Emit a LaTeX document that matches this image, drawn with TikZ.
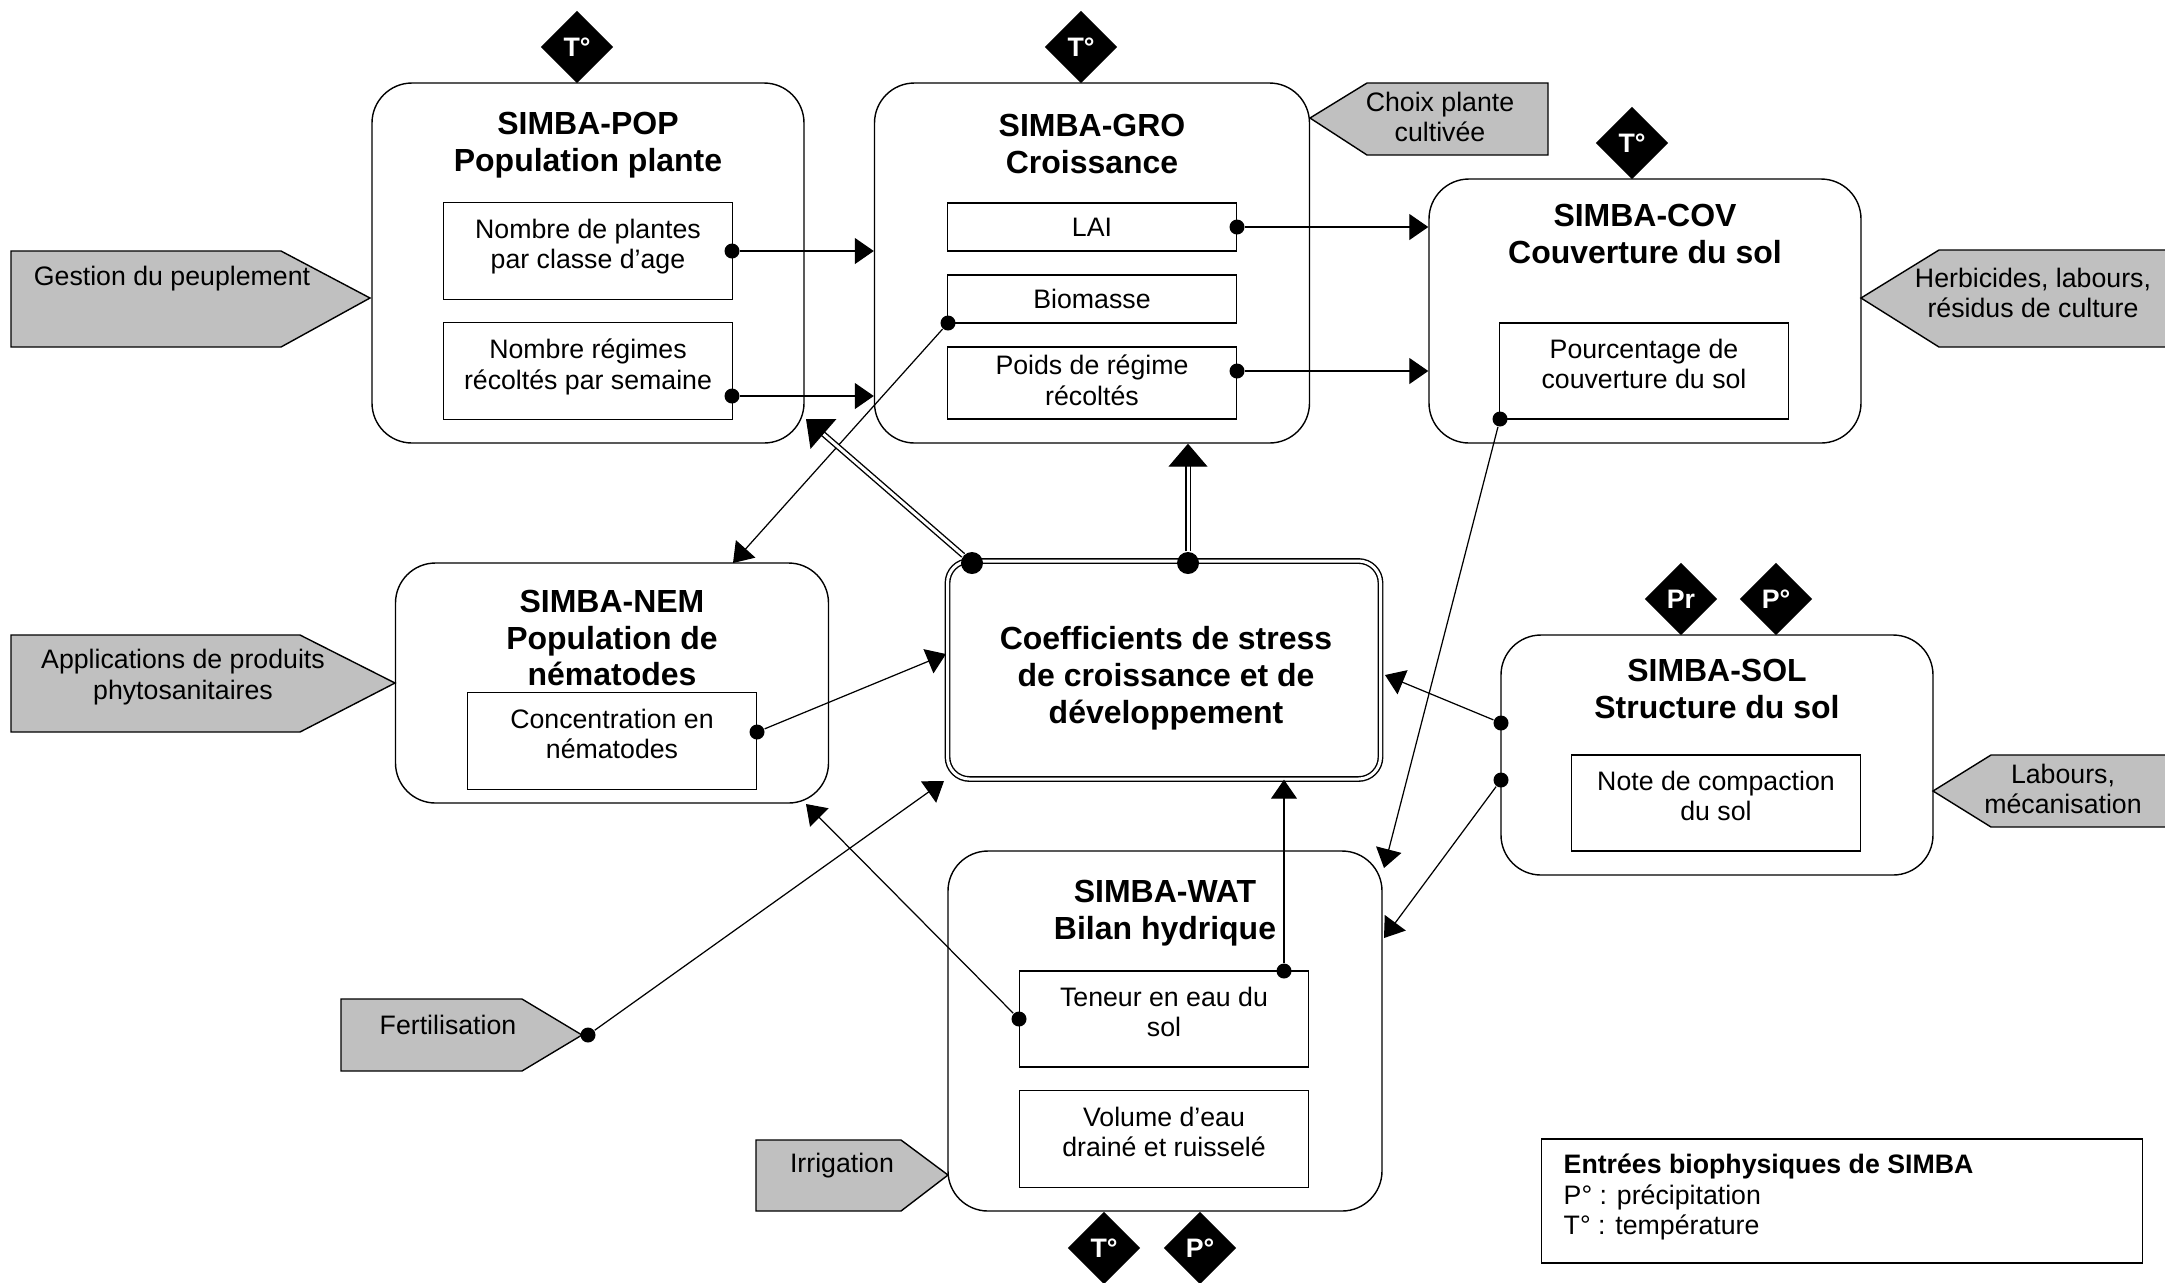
\documentclass[tikz,border=0pt]{standalone}
\usepackage{fontspec}
\setmainfont{Liberation Sans}
\usetikzlibrary{shapes.geometric,arrows.meta}
\definecolor{inputgray}{RGB}{192,192,192}

\tikzset{
  module/.style={draw, rounded corners=4mm, line width=0.4pt},
  title/.style={align=center, inner sep=0pt, font=\fontsize{9.1}{10.5}\selectfont\bfseries},
  var/.style={draw, align=center, inner sep=0pt, minimum width=28.9mm, font=\fontsize{7.6}{8.7}\selectfont},
  vartwo/.style={var, text depth=1.4mm},
  dot/.style={circle, fill, inner sep=0pt, minimum size=1.5mm},
  bigdot/.style={dot, minimum size=2.2mm},
  conn/.style={line width=0.35pt, -{Triangle[length=1.9mm, width=2.6mm]}},
  dblconn/.style={double, double distance=0.3mm, line width=0.4pt, -{Triangle[length=2.3mm, width=3.9mm]}},
  input/.style={draw, fill=inputgray, line width=0.4pt},
  inputtext/.style={align=center, inner sep=0pt, font=\fontsize{7.6}{8.7}\selectfont},
  entry/.style={diamond, aspect=1, fill=black, inner sep=0pt, minimum size=7.3mm, text=white, font=\fontsize{7.6}{8}\selectfont\bfseries}
}

\begin{document}
\begin{tikzpicture}[x=0.1mm, y=-0.1mm]
\useasboundingbox (0,0) rectangle (2165,1282);

\draw[input] (11,251) -- (281,251) -- (370,298) -- (281,347) -- (11,347) -- cycle;
\node[inputtext] (gestion) at (172,279) {Gestion du peuplement};
\draw[input] (11,635) -- (300,635) -- (395,683) -- (300,732) -- (11,732) -- cycle;
\node[inputtext] (applications) at (183,677) {Applications de produits\\phytosanitaires};
\draw[input] (341,999) -- (522,999) -- (582,1035) -- (522,1071) -- (341,1071) -- cycle;
\node[inputtext] (fertilisation) at (448,1025) {Fertilisation};
\draw[input] (756,1140) -- (901,1140) -- (948,1175) -- (901,1211) -- (756,1211) -- cycle;
\node[inputtext] (irrigation) at (842,1166) {Irrigation};
\draw[input] (1310,118) -- (1367,83) -- (1548,83) -- (1548,155) -- (1367,155) -- cycle;
\node[inputtext] (choix) at (1440,117) {Choix plante\\cultivée};
\draw[input] (1861,298) -- (1939,250) -- (2172,250) -- (2172,347) -- (1939,347) -- cycle;
\node[inputtext] (herbicides) at (2033,293) {Herbicides, labours,\\résidus de culture};
\draw[input] (1933,791) -- (1991,755) -- (2172,755) -- (2172,827) -- (1991,827) -- cycle;
\node[inputtext] (labours) at (2063,789) {Labours,\\mécanisation};

\node[module, minimum width=43.2mm, minimum height=36mm] (pop) at (588,263) {};
\node[module, minimum width=43.5mm, minimum height=36mm] (gro) at (1092,263) {};
\node[module, minimum width=43.2mm, minimum height=26.4mm] (cov) at (1645,311) {};
\node[module, minimum width=43.3mm, minimum height=24mm] (nem) at (612,683) {};
\node[module, double, double distance=0.3mm, rounded corners=2.2mm, minimum width=43.3mm, minimum height=21.8mm] (stress) at (1164,670) {};
\node[module, minimum width=43.2mm, minimum height=24mm] (sol) at (1717,755) {};
\node[module, minimum width=43.4mm, minimum height=36mm] (wat) at (1165,1031) {};

\node[title] (poptitle) at (588,145) {SIMBA-POP\\Population plante};
\node[title] (grotitle) at (1092,144) {SIMBA-GRO\\Croissance};
\node[title] (covtitle) at (1645,234) {SIMBA-COV\\Couverture du sol};
\node[title] (nemtitle) at (612,638) {SIMBA-NEM\\Population de\\nématodes};
\node[title] (stresstitle) at (1166,678) {Coefficients de stress\\de croissance et de\\développement};
\node[title] (soltitle) at (1717,689) {SIMBA-SOL\\Structure du sol};
\node[title] (wattitle) at (1165,913) {SIMBA-WAT\\Bilan hydrique};

\node[vartwo, minimum height=9.7mm] (nbplantes) at (588,251) {Nombre de plantes\\par classe d’age};
\node[vartwo, minimum height=9.7mm] (nbregimes) at (588,371) {Nombre régimes\\récoltés par semaine};
\node[var, minimum height=4.8mm] (lai) at (1092,227) {LAI};
\node[var, minimum height=4.8mm] (biomasse) at (1092,299) {Biomasse};
\node[var, text depth=0.6mm, minimum height=7.2mm] (poids) at (1092,383) {Poids de régime\\récoltés};
\node[vartwo, minimum height=9.6mm] (pourcentage) at (1644,371) {Pourcentage de\\couverture du sol};
\node[vartwo, minimum height=9.7mm] (concentration) at (612,741) {Concentration en\\nématodes};
\node[vartwo, minimum height=9.6mm] (compaction) at (1716,803) {Note de compaction\\du sol};
\node[vartwo, minimum height=9.6mm] (teneur) at (1164,1019) {Teneur en eau du\\sol};
\node[vartwo, minimum height=9.7mm] (volume) at (1164,1139) {Volume d’eau\\drainé et ruisselé};

\node[entry] (tpop) at (577,47) {T°};
\node[entry] (tgro) at (1081,47) {T°};
\node[entry] (tcov) at (1632,143) {T°};
\node[entry] (prsol) at (1681,599) {Pr};
\node[entry] (psol) at (1776,599) {P°};
\node[entry] (twat) at (1104,1248) {T°};
\node[entry] (pwat) at (1200,1248) {P°};

\node[dot] (dnbplantes) at (732,251) {};
\node[dot] (dnbregimes) at (732,396) {};
\node[dot] (dlai) at (1237,227) {};
\node[dot] (dbiomasse) at (948,323) {};
\node[dot] (dpoids) at (1237,371) {};
\node[dot] (dpourcentage) at (1500,419) {};
\node[bigdot] (dstressa) at (972,563) {};
\node[bigdot] (dstressb) at (1188,563) {};
\node[dot] (dconcentration) at (757,732) {};
\node[dot] (dfert) at (588,1035) {};
\node[dot] (dteneurl) at (1019,1019) {};
\node[dot] (dteneurt) at (1284,971) {};
\node[dot] (dsola) at (1501,723) {};
\node[dot] (dsolb) at (1501,780) {};

\coordinate (popcorner) at (806,419);
\coordinate (nemtop) at (733,563);
\coordinate (nemcorner) at (806,804);
\coordinate (stressleft) at (946,654);
\coordinate (stresscorner) at (944,781);
\coordinate (stressright) at (1385,675);
\coordinate (watcorner) at (1384,868);
\coordinate (watright) at (1384,938);

\draw[conn] (dnbplantes) -- (dnbplantes -| gro.west);
\draw[conn] (dnbregimes) -- (dnbregimes -| gro.west);
\draw[conn] (dlai) -- (dlai -| cov.west);
\draw[conn] (dpoids) -- (dpoids -| cov.west);
\draw[conn] (dbiomasse) -- (nemtop);
\draw[conn] (dpourcentage) -- (watcorner);
\draw[conn] (dconcentration) -- (stressleft);
\draw[conn] (dfert) -- (stresscorner);
\draw[conn] (dteneurl) -- (nemcorner);
\draw[conn] (dteneurt) -- (dteneurt |- stress.south);
\draw[conn] (dsola) -- (stressright);
\draw[conn] (dsolb) -- (watright);
\draw[dblconn] (dstressa) -- (popcorner);
\draw[dblconn] (dstressb) -- (dstressb |- gro.south);

\node[draw, minimum width=60.1mm, minimum height=12.4mm] (legend) at (1842,1201) {};
\node[anchor=west, align=left, inner sep=0pt, font=\fontsize{7.6}{8.8}\selectfont] (legendtext) at (1563,1197) {\textbf{Entrées biophysiques de SIMBA}\\P° : précipitation\\T° : température};
\end{tikzpicture}
\end{document}
